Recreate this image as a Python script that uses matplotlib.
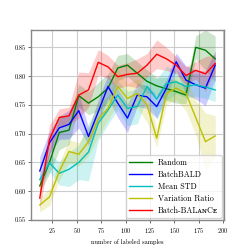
import numpy as np
import matplotlib.pyplot as plt

plt.rcParams["font.family"] = ["cmr10", "DejaVu Serif"]
plt.rcParams["axes.formatter.use_mathtext"] = True
plt.rcParams["mathtext.fontset"] = "cm"

# number of labeled samples
n_labeled = np.arange(12, 193, 10)

# mean accuracy per method
random_mean = [0.609, 0.650, 0.702, 0.706, 0.766, 0.753, 0.764, 0.779, 0.814, 0.819,
               0.805, 0.791, 0.783, 0.778, 0.773, 0.767, 0.850, 0.845, 0.830]
batchbald_mean = [0.635, 0.684, 0.710, 0.716, 0.740, 0.695, 0.738, 0.782, 0.753, 0.727,
                  0.767, 0.764, 0.747, 0.779, 0.825, 0.793, 0.785, 0.779, 0.819]
meanstd_mean = [0.620, 0.649, 0.631, 0.638, 0.650, 0.668, 0.718, 0.741, 0.767, 0.744,
                0.747, 0.782, 0.760, 0.787, 0.790, 0.782, 0.785, 0.781, 0.776]
varratio_mean = [0.576, 0.590, 0.634, 0.669, 0.664, 0.686, 0.725, 0.744, 0.782, 0.761,
                 0.770, 0.750, 0.692, 0.770, 0.779, 0.770, 0.728, 0.686, 0.696]
balance_mean = [0.588, 0.690, 0.728, 0.731, 0.767, 0.776, 0.824, 0.816, 0.799, 0.803,
                0.805, 0.819, 0.838, 0.830, 0.819, 0.801, 0.810, 0.804, 0.822]

# spread (half width of shaded band)
random_std = [0.010, 0.020, 0.030, 0.025, 0.020, 0.020, 0.025, 0.025, 0.022, 0.020,
              0.020, 0.020, 0.015, 0.020, 0.020, 0.015, 0.020, 0.035, 0.040]
batchbald_std = [0.025, 0.020, 0.020, 0.025, 0.030, 0.015, 0.020, 0.020, 0.025, 0.025,
                 0.020, 0.020, 0.020, 0.015, 0.015, 0.025, 0.025, 0.030, 0.025]
meanstd_std = [0.010, 0.015, 0.020, 0.030, 0.030, 0.050, 0.030, 0.025, 0.025, 0.030,
               0.030, 0.020, 0.035, 0.030, 0.020, 0.020, 0.020, 0.020, 0.020]
varratio_std = [0.012, 0.015, 0.015, 0.020, 0.020, 0.025, 0.030, 0.020, 0.030, 0.025,
                0.025, 0.030, 0.015, 0.020, 0.020, 0.030, 0.030, 0.050, 0.035]
balance_std = [0.020, 0.025, 0.015, 0.015, 0.040, 0.030, 0.022, 0.020, 0.020, 0.020,
               0.025, 0.020, 0.025, 0.020, 0.015, 0.015, 0.015, 0.030, 0.015]

series = [
    ("Random", random_mean, random_std, "g"),
    ("BatchBALD", batchbald_mean, batchbald_std, "b"),
    ("Mean STD", meanstd_mean, meanstd_std, "c"),
    ("Variation Ratio", varratio_mean, varratio_std, "y"),
    ("Batch-BAL\u1d00\u0274C\u1d07", balance_mean, balance_std, "r"),
]

fig = plt.figure(figsize=(2.49, 2.49), dpi=100)
ax = fig.add_axes([0.1245, 0.1145, 0.775, 0.767])

for label, mean, std, color in series:
    mean = np.asarray(mean)
    std = np.asarray(std)
    ax.fill_between(n_labeled, mean - std, mean + std, color=color, alpha=0.2, linewidth=0)
    ax.plot(n_labeled, mean, color=color, linewidth=1.0, label=label)

ax.set_xlim(3, 201)
ax.set_ylim(0.549, 0.881)
ax.set_xticks([25, 50, 75, 100, 125, 150, 175, 200])
ax.set_yticks([0.55, 0.60, 0.65, 0.70, 0.75, 0.80, 0.85])
ax.set_yticklabels(["0.55", "0.60", "0.65", "0.70", "0.75", "0.80", "0.85"])
ax.grid(True, color="#cccccc", linewidth=0.8)
ax.set_axisbelow(True)
ax.tick_params(labelsize=4.5, length=2, width=0.6, pad=2, color="#555555")
for sp in ax.spines.values():
    sp.set_color("#888888")
    sp.set_linewidth(1.0)
ax.set_xlabel("number of labeled samples", fontsize=4.5, labelpad=3)

ax.legend(loc="lower right", fontsize=5.8, handlelength=2.8, borderaxespad=0.3,
          labelspacing=0.45, edgecolor="#cccccc", fancybox=True)

fig.savefig("out.png", dpi=100)
